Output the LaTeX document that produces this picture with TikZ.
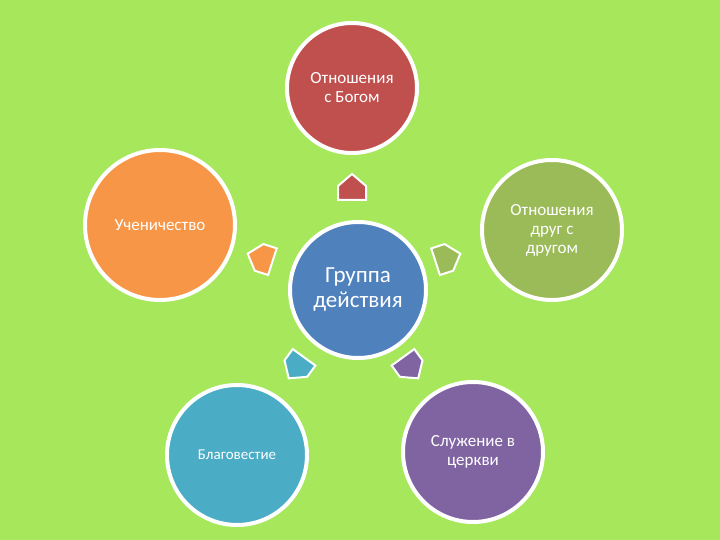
\documentclass[tikz,border=0pt]{standalone}
\usepackage{fontspec}
\setmainfont{Carlito}
\definecolor{bg}{RGB}{166,231,92}
\definecolor{cred}{RGB}{192,80,77}
\definecolor{corange}{RGB}{247,150,70}
\definecolor{colive}{RGB}{155,187,89}
\definecolor{cteal}{RGB}{75,172,198}
\definecolor{cpurple}{RGB}{128,100,162}
\definecolor{cblue}{RGB}{79,129,189}
\begin{document}
\begin{tikzpicture}[x=1pt,y=-1pt,
  circ/.style={circle,draw=white,line width=4pt,text=white,align=center,inner sep=0pt},
  house/.style={draw=white,line width=2pt}]
\fill[bg] (0,0) rectangle (720,540);
\useasboundingbox (0,0) rectangle (720,540);
\node[circ,fill=cblue,minimum size=136pt,font=\fontsize{23}{25}\selectfont] (c) at (358,290) {Группа\\действия};
\node[circ,fill=cred,minimum size=130pt,font=\fontsize{17}{19}\selectfont] (t) at (352,88) {Отношения\\с Богом};
\node[circ,fill=corange,minimum size=150pt,font=\fontsize{17}{19}\selectfont] (l) at (160,225) {Ученичество};
\node[circ,fill=colive,minimum size=140pt,font=\fontsize{17}{19}\selectfont] (r) at (552,230) {Отношения\\друг с\\другом};
\node[circ,fill=cteal,minimum size=140pt,font=\fontsize{15}{17}\selectfont] (bl) at (237,455) {Благовестие};
\node[circ,fill=cpurple,minimum size=140pt,font=\fontsize{17}{19}\selectfont] (br) at (473,452) {Служение в\\церкви};
\foreach \x/\y/\a/\col in {352/188/90/cred, 261/258/162/corange, 447/258/18/colive, 297/367/234/cteal, 410/367/306/cpurple}{
  \begin{scope}[shift={(\x,\y)},rotate=\a]
   \draw[house,fill=\col] (-12,-14) -- (2,-14) -- (14,0) -- (2,14) -- (-12,14) -- cycle;
  \end{scope}
}
\end{tikzpicture}
\end{document}
